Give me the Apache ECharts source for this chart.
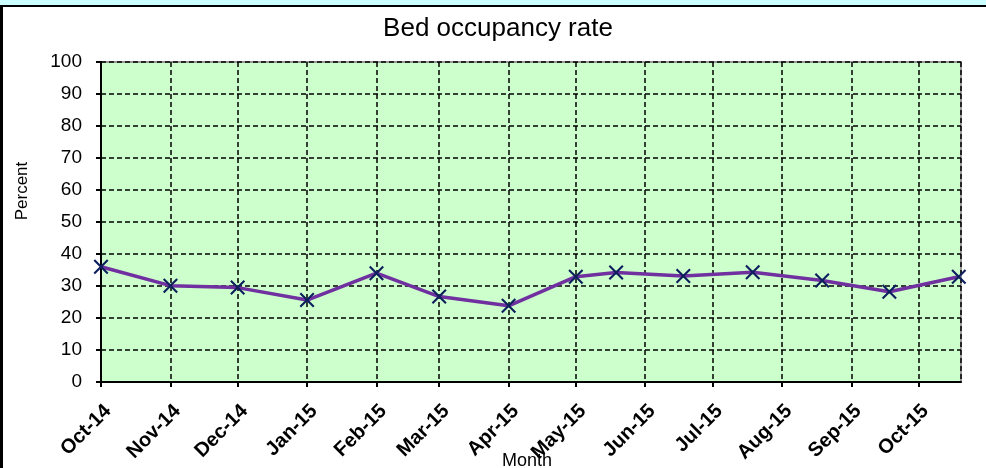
<!DOCTYPE html>
<html>
<head>
<meta charset="utf-8">
<script src="https://cdn.jsdelivr.net/npm/echarts@6/dist/echarts.min.js"></script>
<style>
html,body{margin:0;padding:0;background:#fff;}
#c{width:986px;height:468px;}
</style>
</head>
<body>
<div id="c"></div>
<script>
const dates = ['2014-10-01','2014-11-01','2014-12-01','2015-01-01','2015-02-01','2015-03-01','2015-04-01','2015-05-01','2015-05-19','2015-06-18','2015-07-19','2015-08-19','2015-09-18','2015-10-19'];
const occupancy = [36.0,30.1,29.5,25.6,34.0,26.7,23.8,32.9,34.2,33.1,34.3,31.7,28.2,32.9];
const monthNames = ['Jan','Feb','Mar','Apr','May','Jun','Jul','Aug','Sep','Oct','Nov','Dec'];
const axisStart = '2014-10-01';
const axisEnd = '2015-10-20';

const chart = echarts.init(document.getElementById('c'));
const xMark = 'path://M0,1 L1,0 L5,4 L9,0 L10,1 L6,5 L10,9 L9,10 L5,6 L1,10 L0,9 L4,5 Z';
const DAY = 86400000;
chart.setOption({
  backgroundColor: '#ffffff',
  animation: false,
  graphic: [
    {type:'rect', shape:{x:0,y:0,width:986,height:5}, style:{fill:'#ccffff'}, silent:true},
    {type:'rect', shape:{x:0,y:5,width:986,height:2}, style:{fill:'#000'}, silent:true},
    {type:'rect', shape:{x:0,y:5,width:3,height:463}, style:{fill:'#000'}, silent:true},
    {type:'text', x:498, y:29, style:{text:'Bed occupancy rate', textAlign:'center', textVerticalAlign:'middle', font:'26px "Liberation Sans", Arial', fill:'#000'}, silent:true},
    {type:'text', rotation:Math.PI/2, x:22, y:191, style:{text:'Percent', textAlign:'center', textVerticalAlign:'middle', font:'17px "Liberation Sans", Arial', fill:'#000'}, silent:true},
    {type:'text', x:527, y:461, style:{text:'Month', textAlign:'center', textVerticalAlign:'middle', font:'18px "Liberation Sans", Arial', fill:'#000'}, silent:true}
  ],
  grid: {left:101, right:25, top:62, bottom:86, show:true, backgroundColor:'#ccffcc', borderColor:'#999', borderWidth:2},
  xAxis: {
    type:'time', min: axisStart, max: axisEnd,
    minInterval: 28*DAY, maxInterval: 31*DAY,
    axisLine:{show:true, lineStyle:{color:'#000', width:2}},
    axisTick:{show:true, length:5, lineStyle:{color:'#000', width:2}},
    splitLine:{show:true, lineStyle:{color:'#000', type:[5,3], width:1.5}},
    axisLabel:{
      rotate:45, margin:19, verticalAlign:'top', color:'#000', fontWeight:'bold', fontSize:20,
      fontFamily:'"Liberation Sans", Arial', showMinLabel:true, showMaxLabel:false, hideOverlap:false,
      formatter: function(v){ const d=new Date(v); return monthNames[d.getMonth()]+'-'+String(d.getFullYear()).slice(2); }
    }
  },
  yAxis: {
    type:'value', min:0, max:100, interval:10,
    axisLine:{show:true, lineStyle:{color:'#000', width:2}},
    axisTick:{show:true, length:5, lineStyle:{color:'#000', width:2}},
    splitLine:{show:true, lineStyle:{color:'#000', type:[5,3], width:1.5}},
    axisLabel:{margin:19, color:'#000', fontSize:19, fontFamily:'"Liberation Sans", Arial'}
  },
  series: [{
    type:'line',
    data: dates.map((d,i)=>[d, occupancy[i]]),
    lineStyle:{color:'#7030a0', width:3.5},
    symbol: xMark, symbolSize: 15,
    itemStyle:{color:'#0d1f5c'},
    z: 5
  }]
});
</script>
</body>
</html>
